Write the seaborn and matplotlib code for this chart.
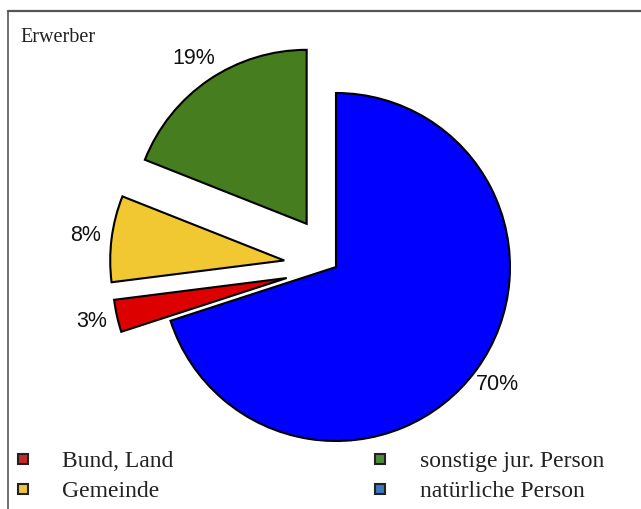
import matplotlib
matplotlib.use("Agg")
import matplotlib.pyplot as plt
import seaborn as sns
from matplotlib.lines import Line2D

# Data (clockwise from 12 o'clock)
categories = ["natürliche Person", "Bund, Land", "Gemeinde", "sonstige jur. Person"]
shares = [70, 3, 8, 19]
explode = [0.0, 0.29, 0.30, 0.30]
pie_colors = ["#0000ff", "#dd0000", "#f2c832", "#467d1e"]
legend_colors = {"Bund, Land": "#c8282a", "Gemeinde": "#f0c43a",
                 "sonstige jur. Person": "#4e8a3a", "natürliche Person": "#3a78c0"}
legend_order = ["Bund, Land", "Gemeinde", "sonstige jur. Person", "natürliche Person"]

sns.set_style("white")

W, H = 641, 509
fig = plt.figure(figsize=(W / 100, H / 100), dpi=100)
ax = fig.add_axes([0, 0, 1, 1])

wedges, texts, autotexts = ax.pie(
    shares, labels=categories, labeldistance=None, explode=explode,
    colors=pie_colors, startangle=90, counterclock=False,
    autopct=lambda p: f"{p:.0f}%", pctdistance=1.15,
    wedgeprops=dict(edgecolor="black", linewidth=1.5),
    textprops=dict(fontsize=15.5, family="Liberation Sans", color="#111111"))

# map pie centre to pixel (336, 267), radius 174 px
R = 174.0
cx, cy = 336.0, 267.0
ax.set_xlim(-cx / R, (W - cx) / R)
ax.set_ylim(-(H - cy) / R, cy / R)
ax.set_aspect("auto")
ax.axis("off")

# outer frame (top and left edges visible)
fig.add_artist(Line2D([8 / W, 1.0], [1 - 11 / H, 1 - 11 / H], transform=fig.transFigure,
                      color="#555555", linewidth=1.6))
fig.add_artist(Line2D([8 / W, 8 / W], [0.0, 1 - 11 / H], transform=fig.transFigure,
                      color="#555555", linewidth=1.2))

fig.text(20 / W, 1 - 38 / H, "Erwerber", ha="left", va="center",
         fontsize=14.5, family="Liberation Serif", color="#222222")

handles = [Line2D([0], [0], marker="s", linestyle="none", markersize=7,
                  markerfacecolor=legend_colors[c], markeredgecolor="#222222",
                  markeredgewidth=1.5) for c in legend_order]
leg = fig.legend(handles, legend_order, ncol=2, loc="upper left",
                 bbox_to_anchor=(6 / W, 1 - 441 / H), frameon=False,
                 prop=dict(family="Liberation Serif", size=17),
                 handlelength=0.6, handletextpad=1.38, columnspacing=8.45,
                 labelspacing=0.36, borderaxespad=0)
for t in leg.get_texts():
    t.set_color("#222222")

fig.savefig("out.png", dpi=100)
